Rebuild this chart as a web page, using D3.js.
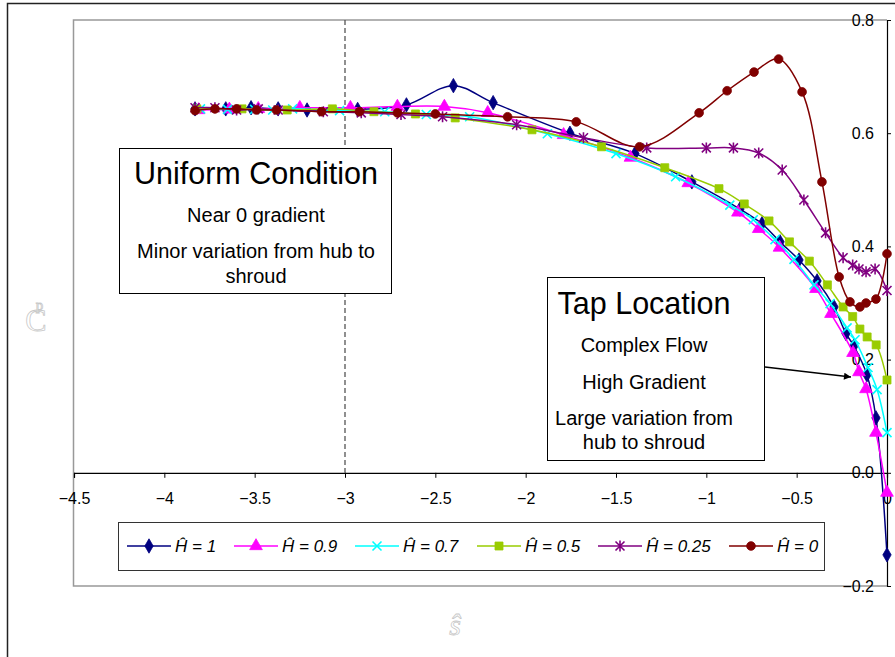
<!DOCTYPE html>
<html>
<head>
<meta charset="utf-8">
<script src="https://cdn.jsdelivr.net/npm/d3@7"></script>
<style>
  body { margin: 0; background: #fff; }
  svg { font-family: "Liberation Sans", Arial, sans-serif; }
</style>
</head>
<body>
<svg id="chart" width="895" height="657"></svg>
<script>
// ---- data ----
const seriesNames = ["Ĥ = 1", "Ĥ = 0.9", "Ĥ = 0.7", "Ĥ = 0.5", "Ĥ = 0.25", "Ĥ = 0"]

const s_H1 = [-3.83, -3.66, -3.52, -3.37, -3.21, -2.93, -2.66, -2.40, -2.18, -1.755, -1.395, -1.08, -0.814, -0.692, -0.592, -0.487, -0.387, -0.293, -0.227, -0.183, -0.111, -0.061, 0]
const cp_H1 = [0.643, 0.643, 0.645, 0.643, 0.641, 0.642, 0.650, 0.684, 0.654, 0.600, 0.564, 0.514, 0.466, 0.440, 0.408, 0.376, 0.339, 0.293, 0.246, 0.224, 0.173, 0.097, -0.145]

const s_H09 = [-3.81, -3.64, -3.48, -3.25, -2.97, -2.71, -2.45, -2.21, -1.79, -1.42, -1.10, -0.825, -0.71, -0.595, -0.393, -0.31, -0.188, -0.155, -0.116, -0.061, 0]
const cp_H09 = [0.641, 0.642, 0.643, 0.645, 0.645, 0.647, 0.647, 0.636, 0.597, 0.557, 0.512, 0.460, 0.431, 0.398, 0.325, 0.281, 0.212, 0.178, 0.148, 0.071, -0.035]

const s_H07 = [-3.80, -3.65, -3.50, -3.40, -3.29, -3.03, -2.78, -2.55, -2.31, -1.88, -1.50, -1.17, -0.87, -0.74, -0.62, -0.515, -0.404, -0.315, -0.221, -0.177, -0.105, -0.055, 0]
const cp_H07 = [0.643, 0.642, 0.642, 0.641, 0.643, 0.640, 0.638, 0.633, 0.629, 0.599, 0.564, 0.523, 0.473, 0.447, 0.412, 0.377, 0.332, 0.299, 0.256, 0.235, 0.186, 0.147, 0.071]

const s_H05 = [-3.82, -3.57, -3.32, -3.07, -2.84, -2.61, -2.39, -1.965, -1.58, -1.23, -0.93, -0.79, -0.653, -0.54, -0.43, -0.33, -0.243, -0.19, -0.15, -0.11, -0.06, 0]
const cp_H05 = [0.643, 0.643, 0.641, 0.643, 0.638, 0.634, 0.627, 0.606, 0.576, 0.539, 0.502, 0.475, 0.445, 0.408, 0.374, 0.332, 0.293, 0.276, 0.254, 0.240, 0.226, 0.164]

const s_H025 = [-3.83, -3.72, -3.60, -3.48, -3.37, -3.12, -2.91, -2.69, -2.46, -2.05, -1.68, -1.33, -1.00, -0.85, -0.71, -0.58, -0.46, -0.34, -0.243, -0.19, -0.155, -0.116, -0.066, 0]
const cp_H025 = [0.645, 0.645, 0.641, 0.643, 0.641, 0.638, 0.636, 0.633, 0.629, 0.615, 0.592, 0.574, 0.574, 0.574, 0.565, 0.535, 0.482, 0.424, 0.380, 0.367, 0.360, 0.355, 0.360, 0.322]

const s_H0 = [-3.83, -3.72, -3.60, -3.49, -3.38, -3.13, -2.92, -2.71, -2.50, -2.10, -1.72, -1.37, -1.04, -0.885, -0.736, -0.60, -0.47, -0.36, -0.265, -0.205, -0.15, -0.116, -0.061, 0]
const cp_H0 = [0.640, 0.643, 0.643, 0.641, 0.641, 0.638, 0.638, 0.636, 0.634, 0.629, 0.620, 0.576, 0.636, 0.675, 0.708, 0.731, 0.673, 0.514, 0.346, 0.302, 0.293, 0.300, 0.307, 0.387]

const xTicks = [-4.5, -4, -3.5, -3, -2.5, -2, -1.5, -1, -0.5, 0]
const yTicks = [-0.2, 0, 0.2, 0.4, 0.6, 0.8]
const uniformLines = ["Near 0 gradient", "Minor variation from hub to", "shroud"]
const tapLines = ["Complex Flow", "High Gradient", "Large variation from", "hub to shroud"]

// ---- setup ----
const svg = d3.select("#chart")

const x = d3.scaleLinear().domain([-4.5, 0]).range([74, 887])
const y = d3.scaleLinear().domain([-0.2, 0.8]).range([586, 20])

const series = [
    { name: seriesNames[0], s: s_H1, cp: cp_H1, color: "#000080", marker: "diamond" },
    { name: seriesNames[1], s: s_H09, cp: cp_H09, color: "#ff00ff", marker: "triangle" },
    { name: seriesNames[2], s: s_H07, cp: cp_H07, color: "#00ffff", marker: "cross" },
    { name: seriesNames[3], s: s_H05, cp: cp_H05, color: "#99cc00", marker: "square" },
    { name: seriesNames[4], s: s_H025, cp: cp_H025, color: "#800080", marker: "star" },
    { name: seriesNames[5], s: s_H0, cp: cp_H0, color: "#800000", marker: "circle" }
]

// outer chart frame
svg.append("path")
    .attr("d", "M7.5,700 V3.5 H900")
    .attr("fill", "none").attr("stroke", "#222").attr("stroke-width", 1.5)

// plot area border (grey)
svg.append("path")
    .attr("d", `M${x(0)},${y(0.8)} H73.5 V${y(-0.2)} H${x(0)}`)
    .attr("fill", "none").attr("stroke", "#999").attr("stroke-width", 1.5)

// dashed marker at s = -3
svg.append("line")
    .attr("x1", x(-3)).attr("x2", x(-3))
    .attr("y1", y(0.8)).attr("y2", y(0))
    .attr("stroke", "#555").attr("stroke-width", 1.3)
    .attr("stroke-dasharray", "5,3")

// x axis along Cp = 0
const xAxis = svg.append("g")
    .attr("transform", `translate(0,${y(0)})`)
    .call(d3.axisBottom(x).tickValues(xTicks).tickSize(5).tickPadding(15).tickFormat(d3.format("")))
xAxis.select(".domain").attr("stroke", "#000").attr("stroke-width", 1.2)
xAxis.selectAll("text").style("font-size", "16px").attr("fill", "#000")

// y axis at s = 0, ticks pointing right, labels on the left
const yAxis = svg.append("g")
    .attr("transform", `translate(${x(0)},0)`)
    .call(d3.axisRight(y).tickValues(yTicks).tickSize(4).tickSizeOuter(0).tickFormat(d3.format(".1f")))
yAxis.select(".domain").attr("stroke", "#000").attr("stroke-width", 1.2)
yAxis.selectAll("text")
    .attr("x", -13).attr("text-anchor", "end")
    .style("font-size", "16px").attr("fill", "#000")

// axis titles (faint outlined text)
const cpLabel = svg.append("text")
    .attr("x", 36).attr("y", 331).attr("text-anchor", "middle")
    .style("font-family", "'Liberation Serif', serif")
    .style("font-size", "32px")
    .attr("fill", "#fff").attr("stroke", "#c8c8c8").attr("stroke-width", 0.8)
cpLabel.append("tspan").text("C")
cpLabel.append("tspan").attr("dy", -21).attr("dx", -11).style("font-size", "15px").text("p")

svg.append("text")
    .attr("x", 455).attr("y", 635).attr("text-anchor", "middle")
    .style("font-family", "'Liberation Serif', serif").style("font-style", "italic")
    .style("font-size", "30px")
    .attr("fill", "#fff").attr("stroke", "#c8c8c8").attr("stroke-width", 0.8)
    .text("ŝ")

// ---- markers ----
function markerPath(type) {
    if (type === "diamond") return d3.symbol(d3.symbolDiamond, 60)()
    if (type === "triangle") return d3.symbol(d3.symbolTriangle, 70)()
    if (type === "square") return d3.symbol(d3.symbolSquare, 64)()
    if (type === "circle") return d3.symbol(d3.symbolCircle, 60)()
    if (type === "cross") return "M-4.5,-4.5L4.5,4.5M-4.5,4.5L4.5,-4.5"
    return "M-4.5,-4.5L4.5,4.5M-4.5,4.5L4.5,-4.5M0,-5.5L0,5.5"
}

function drawMarker(g, type, color) {
    const open = type === "cross" || type === "star"
    g.append("path")
        .attr("d", markerPath(type))
        .attr("fill", open ? "none" : color)
        .attr("stroke", color)
        .attr("stroke-width", open ? 1.6 : 0.8)
}

// ---- series ----
const line = d3.line()
    .x(d => x(d[0]))
    .y(d => y(d[1]))
    .curve(d3.curveCatmullRom.alpha(0.5))

const plot = svg.append("g").attr("class", "series")
series.forEach(sr => {
    const pts = sr.s.map((v, i) => [v, sr.cp[i]])
    plot.append("path")
        .datum(pts)
        .attr("d", line)
        .attr("fill", "none")
        .attr("stroke", sr.color)
        .attr("stroke-width", 1.5)

    plot.selectAll(null).data(pts).join("g")
        .attr("transform", d => `translate(${x(d[0])},${y(d[1])})`)
        .each(function () { drawMarker(d3.select(this), sr.marker, sr.color) })
})

// ---- text boxes ----
function textBox(x0, y0, w, h, cx, title, titleY, lines, lineY) {
    const g = svg.append("g")
    g.append("rect")
        .attr("x", x0 + 0.5).attr("y", y0 + 0.5)
        .attr("width", w).attr("height", h)
        .attr("fill", "#fff").attr("stroke", "#000").attr("stroke-width", 1)
    g.append("text")
        .attr("x", cx).attr("y", titleY).attr("text-anchor", "middle")
        .style("font-size", "30.5px").text(title)
    g.selectAll(".ln").data(lines).join("text").attr("class", "ln")
        .attr("x", cx).attr("y", (d, i) => lineY[i]).attr("text-anchor", "middle")
        .style("font-size", "20px").text(d => d)
}

textBox(119, 148, 272, 145, 256, "Uniform Condition", 184, uniformLines, [222, 258, 283])
textBox(547, 277, 217, 183, 644, "Tap Location", 314, tapLines, [352, 389, 425, 449])

// arrow to the tap location
svg.append("defs").append("marker")
    .attr("id", "arrowhead")
    .attr("viewBox", "0 0 10 10").attr("refX", 10).attr("refY", 5)
    .attr("markerWidth", 9).attr("markerHeight", 7)
    .attr("markerUnits", "userSpaceOnUse")
    .attr("orient", "auto")
    .append("path").attr("d", "M0,0L10,5L0,10z").attr("fill", "#000")

svg.append("line")
    .attr("x1", 765).attr("y1", 367)
    .attr("x2", 851).attr("y2", 377)
    .attr("stroke", "#000").attr("stroke-width", 1.3)
    .attr("marker-end", "url(#arrowhead)")

// ---- legend ----
const legend = svg.append("g").attr("class", "legend")
legend.append("rect")
    .attr("x", 118.5).attr("y", 522.5).attr("width", 706).attr("height", 48)
    .attr("fill", "#fff").attr("stroke", "#333").attr("stroke-width", 1)

const legendX = [127, 234, 355, 477, 598, 729]
const item = legend.selectAll(".item").data(series).join("g").attr("class", "item")
    .attr("transform", (d, i) => `translate(${legendX[i]},546)`)
item.append("line")
    .attr("x1", 0).attr("x2", 44)
    .attr("stroke", d => d.color).attr("stroke-width", 1.5)
item.append("g").attr("transform", "translate(22,0)")
    .each(function (d) { drawMarker(d3.select(this), d.marker, d.color) })
item.append("text")
    .attr("x", 48).attr("y", 6)
    .style("font-size", "17px").style("font-style", "italic")
    .text(d => d.name)
</script>
</body>
</html>
